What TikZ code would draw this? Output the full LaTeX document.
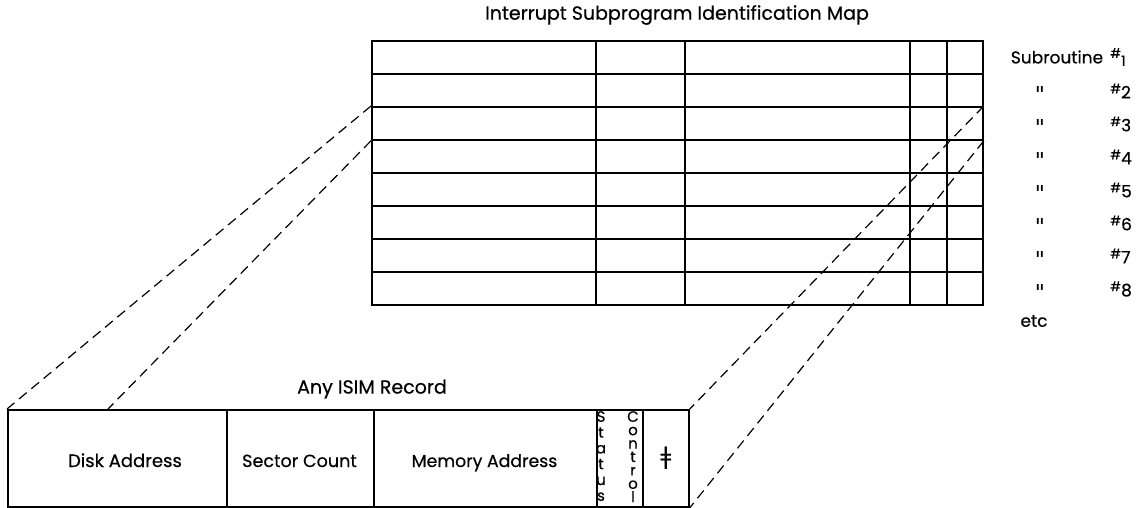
\documentclass[tikz,border=0pt]{standalone}
\usepackage{fontspec}
\setmainfont{Poppins}[FakeBold=0.5]
\newfontfamily\symfont{DejaVu Sans}
\begin{document}
\begin{tikzpicture}[x=1pt,y=-1pt,
  cell/.style={draw, line width=1.8pt, anchor=north west, inner sep=0pt},
  guide/.style={line width=1.2pt, dash pattern=on 10pt off 6pt},
  lbl/.style={font=\fontsize{17}{19}\selectfont, inner sep=0pt},
  fld/.style={inner sep=0pt, anchor=base},
  stack/.style={inner sep=0pt, anchor=north, align=center},
  hash/.style={font=\fontsize{17}{19}\selectfont, inner sep=0pt, anchor=west},
  ditto/.style={font={\symfont\fontsize{22}{22}\selectfont}, inner sep=0pt, anchor=base}
]
\useasboundingbox (0,0) rectangle (1146,507);

% title of the map
\node[lbl, font=\fontsize{19}{21}\selectfont] (title) at (677,15) {Interrupt Subprogram Identification Map};

% identification map: 8 rows x 5 columns
\foreach \r in {1,...,8}{
  \foreach \c/\xa/\xb in {1/371/595, 2/595/684, 3/684/909, 4/909/946, 5/946/982}{
    \pgfmathsetmacro{\w}{\xb-\xa}
    \node[cell, minimum width=\w pt, minimum height=33pt]
      (m-\r-\c) at (\xa,{40+33*(\r-1)}) {};
  }
}

% row labels
\node[lbl] (sub1) at (1057,57) {Subroutine};
\node[hash] (n1) at (1110,57) {\raisebox{0.55ex}{\fontsize{13}{13}\selectfont\#}\raisebox{-0.3ex}{\fontsize{14}{14}\selectfont 1}};
\foreach \r in {2,...,8}{
  \node[ditto] (d\r) at (1040,{102+33*(\r-2)}) {"};
  \node[hash] (n\r) at (1110,{58+33*(\r-1)}) {\raisebox{0.55ex}{\fontsize{13}{13}\selectfont\#}\r};
}
\node[lbl] (etc) at (1034,321) {etc};

% expanded record
\node[lbl, font=\fontsize{19}{21}\selectfont] (rectitle) at (372,389) {Any ISIM Record};
\node[cell, minimum width=219pt, minimum height=97pt] (disk) at (7,409) {};
\node[fld, font=\fontsize{18}{20}\selectfont] at (125,467) {Disk Address};
\node[cell, minimum width=147pt, minimum height=97pt] (sector) at (226,409) {};
\node[fld, font=\fontsize{17.6}{20}\selectfont] at (299.5,467) {Sector Count};
\node[cell, minimum width=223pt, minimum height=97pt] (memory) at (373,409) {};
\node[fld, font=\fontsize{17.3}{20}\selectfont] at (484.5,467) {Memory Address};
\node[cell, minimum width=46pt, minimum height=97pt] (flags) at (596,409) {};
\node[cell, minimum width=46pt, minimum height=97pt] (plus) at (642,409) {};
\node[font={\symfont\fontsize{24}{24}\selectfont}, inner sep=0pt] (dd) at (plus.center) {ǂ};

% stacked field names
\node[stack, font=\fontsize{15}{15.8}\selectfont] (status) at (601,411) {S\\t\\a\\t\\u\\s};
\node[stack, font=\fontsize{15}{13.4}\selectfont] (control) at (633,411) {C\\o\\n\\t\\r\\o\\l};

% projection of row 3 onto the record
\coordinate (diskin) at (108,409);
\draw[guide] (m-3-1.north west) -- (disk.north west);
\draw[guide] (m-3-1.south west) -- (diskin);
\draw[guide] (m-3-5.north east) -- (plus.north east);
\draw[guide] (m-3-5.south east) -- (plus.south east);
\end{tikzpicture}
\end{document}
